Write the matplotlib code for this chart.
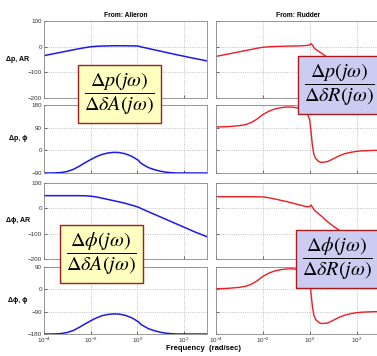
import matplotlib
matplotlib.use('Agg')
import matplotlib.pyplot as plt
from matplotlib.ticker import FixedLocator, NullLocator

plt.rcParams['font.family'] = ['Liberation Sans', 'DejaVu Sans']
plt.rcParams['mathtext.fontset'] = 'stix'

# frequency grid (rad/sec), shared by all curves
freq = [1e-4, 1.78e-4, 3.16e-4, 5.62e-4, 1e-3, 1.78e-3, 3.16e-3, 5.62e-3,
        1e-2, 1.78e-2, 3.16e-2, 5.62e-2, 0.1, 0.178, 0.316, 0.562, 0.8,
        1.0, 1.15, 1.3, 1.5, 1.78, 2.37, 3.16, 5.62, 10, 17.8, 31.6, 56.2,
        100, 178, 316, 562, 1000]

# roll rate p
p_ail_mag = [-35, -30.5, -26, -21.5, -17, -12.5, -8, -4, -0.5, 1.5, 2.5, 3,
             3.5, 3.5, 3.5, 3, 3, 2.5, 2, 0.5, -1, -2.5, -5, -7.5, -12.5,
             -17.5, -22.5, -27.5, -32.5, -37, -42, -46.5, -51, -55.5]
p_ail_phase = [-90, -90, -89.5, -88, -84, -76, -64, -50, -37, -25, -16, -10.5,
               -8, -9, -14, -23, -31, -37, -40, -47, -52, -56, -63, -69, -77,
               -83, -87, -89, -90, -90, -90, -90, -90, -90]
p_rud_mag = [-38, -33.5, -29, -24.5, -20, -15.5, -11, -6, -2.5, -0.5, 0.5, 1.5,
             2, 2.5, 3, 4, 5, 7, 12, 6, -3, -10, -18, -25, -42, -54, -66, -77,
             -88, -98, -108, -118, -128, -138]
p_rud_phase = [93, 93, 94, 96, 98, 102, 110, 124, 142, 155, 164, 169, 172, 172,
               168, 158, 145, 120, 70, 20, -15, -32, -44, -48, -45, -34, -22,
               -13, -8, -4, -2, -1, 0, 0]

# bank angle phi
phi_ail_mag = [50, 50, 50, 50, 50, 50, 50, 49.5, 48, 45, 40, 35, 30, 25, 19.5,
               13, 9, 6, 4, 2, -1, -4, -9, -14, -24, -34, -44, -54, -64, -74,
               -84, -94, -103, -112]
phi_ail_phase = [-180, -180, -179.5, -178, -174, -166, -154, -140, -127, -115,
                 -106, -101, -99, -100, -105, -114, -122, -128, -131, -137,
                 -142, -146, -153, -159, -167, -173, -177, -179, -180, -180,
                 -180, -180, -180, -180]
phi_rud_mag = [46, 46, 46, 46, 46, 46, 46, 45.5, 45, 42, 37, 32, 27, 21, 15, 9,
               6, 7, 13, 5, -4, -12, -21, -31, -52, -70, -86, -100, -113, -126,
               -139, -151, -163, -175]
phi_rud_phase = [3, 3, 4, 6, 8, 12, 20, 34, 52, 65, 74, 79, 82, 83, 79, 69, 56,
                 31, -19, -69, -104, -121, -133, -138, -136, -125, -113, -104,
                 -98, -94, -92, -91, -90, -90]

row_labels = ['\u0394p, AR', '\u0394p, \u03d5', '\u0394\u03d5, AR', '\u0394\u03d5, \u03d5']
y_limits = [(-200, 100), (-90, 180), (-200, 100), (-180, 90)]
y_ticks = [[-200, -100, 0, 100], [-90, 0, 90, 180],
           [-200, -100, 0, 100], [-180, -90, 0, 90]]
x_ticks = [1e-4, 1e-2, 1e0, 1e2]

left_curves = [p_ail_mag, p_ail_phase, phi_ail_mag, phi_ail_phase]
right_curves = [p_rud_mag, p_rud_phase, phi_rud_mag, phi_rud_phase]

W, H = 377, 356
# axes rows in pixels: (top, bottom)
rows_px = [(21, 98), (105, 173), (183, 259), (267, 334)]
cols_px = [(44, 207), (216, 380)]

fig = plt.figure(figsize=(W / 100, H / 100), dpi=100)


def make_axes(col, row):
    x0, x1 = cols_px[col]
    t, b = rows_px[row]
    ax = fig.add_axes([x0 / W, 1 - b / H, (x1 - x0) / W, (b - t) / H])
    ax.set_xscale('log')
    ax.set_xlim(1e-4, 1e3)
    ax.set_ylim(*y_limits[row])
    ax.xaxis.set_major_locator(FixedLocator(x_ticks))
    ax.xaxis.set_minor_locator(NullLocator())
    ax.set_yticks(y_ticks[row])
    ax.grid(True, linestyle=':', color='#b0b0b0', linewidth=0.6)
    ax.tick_params(direction='in', length=2, width=0.5, labelsize=4.5,
                   pad=1.5, colors='#333333')
    for s in ax.spines.values():
        s.set_color('#888888')
        s.set_linewidth(0.6)
    if row < 3:
        ax.tick_params(labelbottom=False)
    if col == 1:
        ax.tick_params(labelleft=False)
    return ax


for r in range(4):
    axl = make_axes(0, r)
    axl.plot(freq, left_curves[r], color='#1a1aee', linewidth=1.1)
    axr = make_axes(1, r)
    axr.plot(freq, right_curves[r], color='#ee1c24', linewidth=1.0)
    if r == 0:
        axl.set_title('From: Aileron', fontsize=4.8, fontweight='bold', pad=3)
        axr.set_title('From: Rudder', fontsize=4.8, fontweight='bold', pad=3)
    t, b = rows_px[r]
    fig.text(18 / W, 1 - (t + b) / 2 / H, row_labels[r], fontsize=5,
             fontweight='bold', ha='center', va='center')

fig.text(203 / W, 1 - 349 / H, 'Frequency  (rad/sec)', fontsize=5.5,
         fontweight='bold', ha='center', va='center')

yellow = dict(boxstyle='square,pad=0.28', fc='#ffffc0', ec='#a41c1c', lw=1.0)
lilac = dict(boxstyle='square,pad=0.28', fc='#ccccf2', ec='#a41c1c', lw=1.0)

boxes = [
    (119.5, 94, r'$\dfrac{\Delta p\left(j\omega\right)}{\Delta\delta A\left(j\omega\right)}$', yellow),
    (339, 85, r'$\dfrac{\Delta p\left(j\omega\right)}{\Delta\delta R\left(j\omega\right)}$', lilac),
    (101.5, 254, r'$\dfrac{\Delta\phi\left(j\omega\right)}{\Delta\delta A\left(j\omega\right)}$', yellow),
    (337.5, 259, r'$\dfrac{\Delta\phi\left(j\omega\right)}{\Delta\delta R\left(j\omega\right)}$', lilac),
]
for bx, by, txt, style in boxes:
    fig.text(bx / W, 1 - by / H, txt, fontsize=14.5, ha='center', va='center',
             bbox=style, zorder=10)

fig.savefig('out.png', dpi=100)
